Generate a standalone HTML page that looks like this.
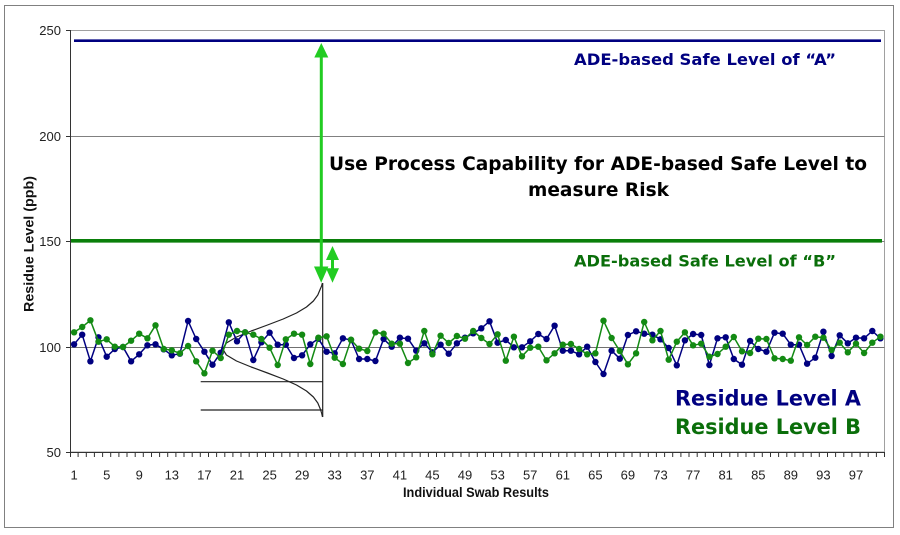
<!DOCTYPE html>
<html>
<head>
<meta charset="utf-8">
<style>
  html,body{margin:0;padding:0;background:#fff;}
  svg{display:block;}
  .tk{font-family:"Liberation Sans",Arial,sans-serif;font-size:13px;fill:#222;}
  .ax{font-family:"Liberation Sans",Arial,sans-serif;font-size:13.5px;font-weight:bold;fill:#111;}
  .ann{font-family:"DejaVu Sans","Liberation Sans",sans-serif;font-weight:bold;}
</style>
</head>
<body>
<svg width="900" height="535" viewBox="0 0 900 535" xmlns="http://www.w3.org/2000/svg">
  <defs>
    <marker id="mb" viewBox="-4 -4 8 8" markerWidth="8" markerHeight="8" refX="0" refY="0" markerUnits="userSpaceOnUse">
      <circle r="3.2" fill="#000080"/>
    </marker>
    <marker id="mg" viewBox="-4 -4 8 8" markerWidth="8" markerHeight="8" refX="0" refY="0" markerUnits="userSpaceOnUse">
      <circle r="3.2" fill="#138a13"/>
    </marker>
  </defs>

  <rect x="0" y="0" width="900" height="535" fill="#fff"/>
  <!-- outer chart border -->
  <rect x="4.5" y="5.5" width="889" height="522" fill="none" stroke="#808080" stroke-width="1"/>

  <!-- plot area border -->
  <rect x="70.5" y="30.5" width="814" height="421.5" fill="none" stroke="#a0a0a0" stroke-width="1"/>

  <!-- gridlines -->
  <line x1="70" y1="136.5" x2="884.5" y2="136.5" stroke="#808080" stroke-width="1"/>
  <line x1="70" y1="241.5" x2="884.5" y2="241.5" stroke="#808080" stroke-width="1"/>
  <line x1="70" y1="347.5" x2="884.5" y2="347.5" stroke="#707070" stroke-width="1"/>

  <!-- safe level lines -->
  <line x1="74" y1="40.7" x2="881" y2="40.7" stroke="#000080" stroke-width="2.6"/>
  <line x1="71" y1="240.8" x2="882" y2="240.8" stroke="#0a7f0a" stroke-width="3.6"/>

  <!-- axes -->
  <line x1="70.5" y1="30" x2="70.5" y2="452.5" stroke="#333" stroke-width="1"/>
  <line x1="70" y1="452.5" x2="885" y2="452.5" stroke="#333" stroke-width="1"/>
  <!-- y ticks -->
  <path d="M66 30.5h4M66 136.5h4M66 241.5h4M66 347.5h4M66 452.5h4" stroke="#333" stroke-width="1"/>
  <!-- x ticks -->
  <path stroke="#333" stroke-width="1" d="M70.5 452v5M78.1 452v5M86.3 452v5M94.4 452v5M102.6 452v5M110.7 452v5M118.9 452v5M127 452v5M135.2 452v5M143.3 452v5M151.5 452v5M159.6 452v5M167.7 452v5M175.9 452v5M184 452v5M192.2 452v5M200.3 452v5M208.5 452v5M216.6 452v5M224.8 452v5M232.9 452v5M241 452v5M249.2 452v5M257.3 452v5M265.5 452v5M273.6 452v5M281.8 452v5M289.9 452v5M298.1 452v5M306.2 452v5M314.4 452v5M322.5 452v5M330.6 452v5M338.8 452v5M346.9 452v5M355.1 452v5M363.2 452v5M371.4 452v5M379.5 452v5M387.7 452v5M395.8 452v5M404 452v5M412.1 452v5M420.2 452v5M428.4 452v5M436.5 452v5M444.7 452v5M452.8 452v5M461 452v5M469.1 452v5M477.3 452v5M485.4 452v5M493.5 452v5M501.7 452v5M509.8 452v5M518 452v5M526.1 452v5M534.3 452v5M542.4 452v5M550.6 452v5M558.7 452v5M566.9 452v5M575 452v5M583.1 452v5M591.3 452v5M599.4 452v5M607.6 452v5M615.7 452v5M623.9 452v5M632 452v5M640.2 452v5M648.3 452v5M656.4 452v5M664.6 452v5M672.7 452v5M680.9 452v5M689 452v5M697.2 452v5M705.3 452v5M713.5 452v5M721.6 452v5M729.8 452v5M737.9 452v5M746 452v5M754.2 452v5M762.3 452v5M770.5 452v5M778.6 452v5M786.8 452v5M794.9 452v5M803.1 452v5M811.2 452v5M819.3 452v5M827.5 452v5M835.6 452v5M843.8 452v5M851.9 452v5M860.1 452v5M868.2 452v5M876.4 452v5M884.5 452v5"/>

  <!-- y tick labels -->
  <g class="tk" text-anchor="end">
    <text x="61" y="35">250</text>
    <text x="61" y="141">200</text>
    <text x="61" y="246">150</text>
    <text x="61" y="352">100</text>
    <text x="61" y="457">50</text>
  </g>
  <!-- x tick labels -->
  <g class="tk" text-anchor="middle" font-size="12.5">
    <text x="74.1" y="479.5">1</text>
    <text x="106.7" y="479.5">5</text>
    <text x="139.2" y="479.5">9</text>
    <text x="171.8" y="479.5">13</text>
    <text x="204.4" y="479.5">17</text>
    <text x="237" y="479.5">21</text>
    <text x="269.6" y="479.5">25</text>
    <text x="302.1" y="479.5">29</text>
    <text x="334.7" y="479.5">33</text>
    <text x="367.3" y="479.5">37</text>
    <text x="399.9" y="479.5">41</text>
    <text x="432.4" y="479.5">45</text>
    <text x="465" y="479.5">49</text>
    <text x="497.6" y="479.5">53</text>
    <text x="530.2" y="479.5">57</text>
    <text x="562.8" y="479.5">61</text>
    <text x="595.4" y="479.5">65</text>
    <text x="627.9" y="479.5">69</text>
    <text x="660.5" y="479.5">73</text>
    <text x="693.1" y="479.5">77</text>
    <text x="725.7" y="479.5">81</text>
    <text x="758.3" y="479.5">85</text>
    <text x="790.8" y="479.5">89</text>
    <text x="823.4" y="479.5">93</text>
    <text x="856" y="479.5">97</text>
  </g>

  <!-- axis titles -->
  <text class="ax" x="476" y="497" text-anchor="middle" textLength="146" lengthAdjust="spacingAndGlyphs">Individual Swab Results</text>
  <text class="ax" transform="translate(33.5,244) rotate(-90)" x="0" y="0" text-anchor="middle" textLength="136" lengthAdjust="spacingAndGlyphs">Residue Level (ppb)</text>

  <!-- bell curve and reference lines -->
  <line x1="200.7" y1="381.7" x2="322.7" y2="381.7" stroke="#222" stroke-width="1.2"/>
  <line x1="200.7" y1="410" x2="322.7" y2="410" stroke="#222" stroke-width="1.2"/>
  <line x1="322.7" y1="283" x2="322.7" y2="417" stroke="#222" stroke-width="1.2"/>
  <path d="M322.4,283 L321.6,286 L320.3,289 L317.8,295 L313.4,301 L306.5,307 L296.5,313 L283.2,319 L267.5,325 L251.2,331 L236.5,337 L226.4,343 L222.7,349 L226.4,355 L236.5,361 L251.2,367 L267.5,373 L283.2,379 L296.5,385 L306.5,391 L313.4,397 L317.8,403 L320.3,409 L321.6,413 L322.5,417" fill="none" stroke="#222" stroke-width="1.2" stroke-linejoin="round"/>

  <!-- series A (blue) -->
  <polyline fill="none" stroke="#000080" stroke-width="1.5" stroke-linejoin="round" marker-start="url(#mb)" marker-mid="url(#mb)" marker-end="url(#mb)"
    points="74.1,344.3 82.2,334.7 90.4,361.3 98.5,337.3 106.7,356.7 114.8,349 123,347 131.1,361.3 139.2,354.3 147.4,345.3 155.5,344.3 163.7,349.3 171.8,355.3 179.9,353.7 188.1,321 196.2,339 204.4,351.7 212.5,364.7 220.7,352.7 228.8,322.3 237,341.3 245.1,332.3 253.3,360 261.4,342.3 269.6,332.7 277.7,344.7 285.8,344.7 294,358 302.1,355.3 310.3,344.3 318.4,338.7 326.6,351.7 334.7,353.3 342.9,338.3 351,340 359.1,359 367.3,359 375.4,361 383.6,339 391.7,346.7 399.9,337.7 408,338.7 416.2,350.7 424.3,343.3 432.4,352.3 440.6,344.7 448.7,353.7 456.9,343.3 465,337.7 473.2,333.3 481.3,328.3 489.5,321.3 497.6,342.7 505.8,340 513.9,347.3 522,347.3 530.2,341.3 538.3,334 546.5,339 554.6,325.7 562.8,350.7 570.9,350.7 579.1,354.3 587.2,346.7 595.4,362 603.5,374 611.6,350.7 619.8,358.7 627.9,335 636.1,331.3 644.2,333.7 652.4,334.7 660.5,339.3 668.7,348 676.8,365.3 684.9,340.3 693.1,334 701.2,335 709.4,365 717.5,338.3 725.7,337.3 733.8,359 742,364.7 750.1,341 758.3,349 766.4,351.7 774.5,332.7 782.7,333.7 790.8,344.7 799,344.7 807.1,363.7 815.3,357.7 823.4,331.7 831.6,356 839.7,335.3 847.8,343.3 856,337.7 864.1,338.3 872.3,331 880.4,338.3"/>

  <!-- series B (green) -->
  <polyline fill="none" stroke="#138a13" stroke-width="1.5" stroke-linejoin="round" marker-start="url(#mg)" marker-mid="url(#mg)" marker-end="url(#mg)"
    points="74.1,332.3 82.2,327 90.4,320.3 98.5,341.7 106.7,339.3 114.8,346.7 123,347 131.1,340.7 139.2,333.7 147.4,338.3 155.5,325.3 163.7,349 171.8,350.3 179.9,353.3 188.1,346 196.2,361.3 204.4,373.3 212.5,350.7 220.7,358 228.8,334.7 237,331 245.1,332.3 253.3,334.7 261.4,339 269.6,347.7 277.7,365 285.8,339.3 294,333.7 302.1,334.7 310.3,364 318.4,337.7 326.6,336.3 334.7,357.7 342.9,364 351,339.7 359.1,348.7 367.3,351 375.4,332.3 383.6,333.7 391.7,343.7 399.9,343.7 408,363 416.2,357.3 424.3,331 432.4,354.3 440.6,335.7 448.7,343 456.9,336 465,338.7 473.2,331 481.3,338 489.5,344 497.6,334.3 505.8,360.7 513.9,336.7 522,356.3 530.2,347.7 538.3,346.7 546.5,360.3 554.6,353.3 562.8,344.7 570.9,344 579.1,349 587.2,354.3 595.4,353.3 603.5,320.7 611.6,338 619.8,351 627.9,364.3 636.1,353.3 644.2,322 652.4,340.3 660.5,331 668.7,359.7 676.8,341.7 684.9,332.3 693.1,345.3 701.2,343.7 709.4,356.7 717.5,354 725.7,346.7 733.8,337 742,351.3 750.1,353 758.3,338.7 766.4,339 774.5,358.3 782.7,359 790.8,360.7 799,337.3 807.1,345 815.3,336.7 823.4,337.7 831.6,350 839.7,342.7 847.8,352.3 856,343.7 864.1,353 872.3,342.7 880.4,336.7"/>

  <!-- green arrows -->
  <line x1="321.3" y1="55" x2="321.3" y2="268" stroke="#22cc22" stroke-width="3"/>
  <polygon points="321.3,43 314.3,57.5 328.3,57.5" fill="#22cc22"/>
  <polygon points="314,266.5 328.4,266.5 321.2,282.7" fill="#22cc22"/>
  <line x1="332.5" y1="258" x2="332.5" y2="270" stroke="#22cc22" stroke-width="3"/>
  <polygon points="332.5,246 326,260 339,260" fill="#22cc22"/>
  <polygon points="326,268.3 339,268.3 332.5,282.7" fill="#22cc22"/>

  <!-- annotations -->
  <text class="ann" x="574" y="65" font-size="16" fill="#000080" textLength="262" lengthAdjust="spacingAndGlyphs">ADE-based Safe Level of “A”</text>
  <text class="ann" x="574" y="266.5" font-size="16" fill="#0a6e0a" textLength="262" lengthAdjust="spacingAndGlyphs">ADE-based Safe Level of “B”</text>
  <text class="ann" x="329" y="170" font-size="19" fill="#000" textLength="538" lengthAdjust="spacingAndGlyphs">Use Process Capability for ADE-based Safe Level to</text>
  <text class="ann" x="528" y="196" font-size="19" fill="#000" textLength="141" lengthAdjust="spacingAndGlyphs">measure Risk</text>
  <text class="ann" x="675" y="405.7" font-size="21.5" fill="#000080" textLength="186" lengthAdjust="spacingAndGlyphs">Residue Level A</text>
  <text class="ann" x="675" y="434" font-size="21.5" fill="#0a6e0a" textLength="186" lengthAdjust="spacingAndGlyphs">Residue Level B</text>
</svg>
</body>
</html>
